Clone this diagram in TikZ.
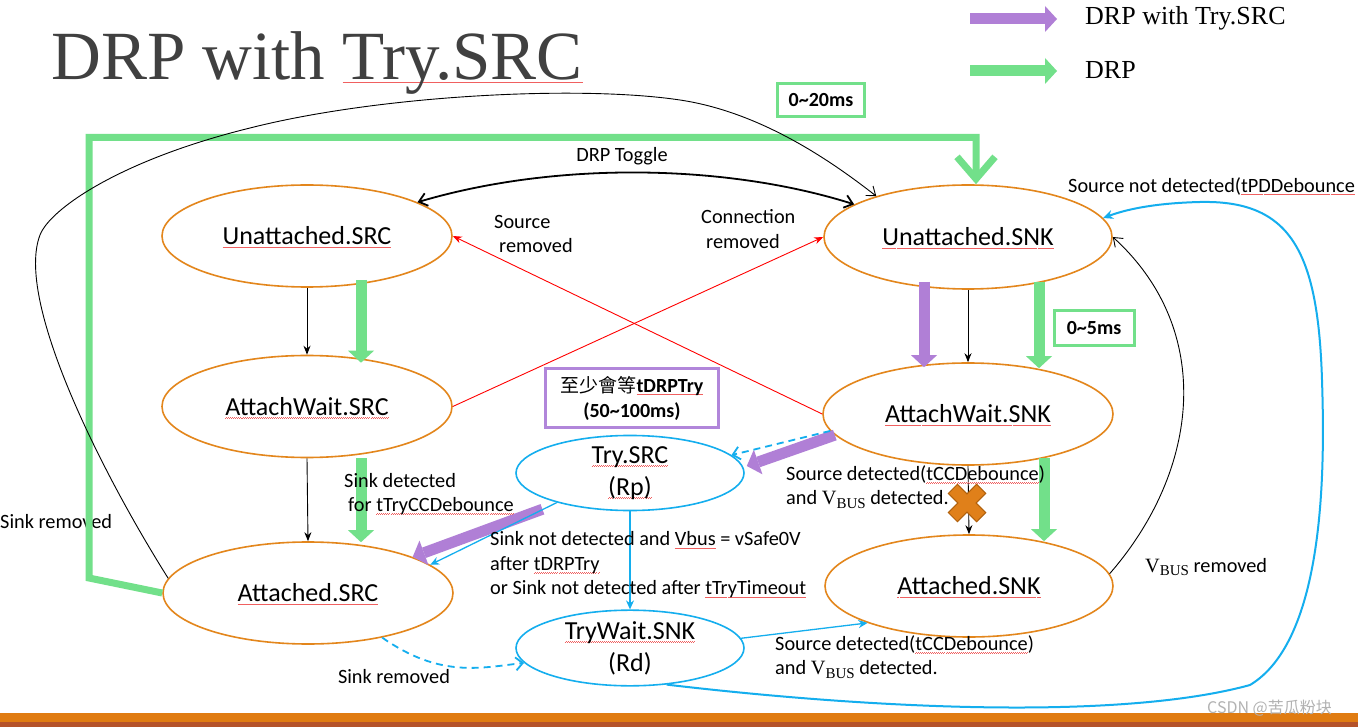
\documentclass[tikz,border=0pt]{standalone}
\usepackage{fontspec}
\setmainfont{Carlito}
\newfontfamily\serifF{Liberation Serif}
\newfontfamily\cjkF{Noto Sans CJK TC}
\newfontfamily\cjkSC{Noto Sans CJK SC}
\usetikzlibrary{shapes.geometric,arrows.meta,calc}
\definecolor{stOrange}{HTML}{E3861C}
\definecolor{stBlue}{HTML}{14AEEE}
\definecolor{arGreen}{HTML}{72E08A}
\definecolor{arPurple}{HTML}{B07FD6}
\definecolor{bxPurple}{HTML}{B186DA}
\definecolor{titleGray}{HTML}{404040}
\definecolor{barOrange}{HTML}{E07C12}
\definecolor{barDark}{HTML}{B5522A}
\definecolor{xOrange}{HTML}{E0801A}
\definecolor{xDark}{HTML}{B0600C}
\definecolor{spellRed}{HTML}{F06060}
\newcommand\sq[1]{\setbox0\hbox{#1}\rlap{\color{spellRed}\raisebox{-3pt}[0pt][0pt]{\hbox to \wd0{\xleaders\hbox{\rule{1pt}{0.6pt}\raisebox{0.7pt}{\rule{1pt}{0.6pt}}}\hfill}}}\box0\relax}
\newcommand\vbus{{\serifF V\raisebox{-0.35ex}{\fontsize{15}{15}\selectfont BUS}}}
\begin{document}
\begin{tikzpicture}[x=1pt,y=-1pt,
  state/.style={ellipse, draw=stOrange, line width=1.6pt, minimum width=290pt, minimum height=102pt, inner sep=0pt, font=\fontsize{26}{32}\selectfont, align=center},
  bstate/.style={state, draw=stBlue, minimum width=228pt, minimum height=74pt},
  lbl/.style={font=\fontsize{20.3}{24.5}\selectfont, align=left, inner sep=0pt},
  blk/.style={draw=black, line width=0.9pt, -{Stealth[length=9pt,width=7pt]}},
  blkcurve/.style={draw=black, line width=0.9pt, -{Straight Barb[length=8pt,width=12pt]}},
  redl/.style={draw=red, line width=0.9pt, -{Stealth[length=9pt,width=7pt]}},
  bl/.style={draw=stBlue, line width=1.3pt, -{Stealth[length=9pt,width=8pt]}},
  bldash/.style={draw=stBlue, line width=1.8pt, dashed, dash pattern=on 7pt off 5pt, -{Straight Barb[length=7pt,width=13pt]}},
  garrow/.style={draw=arGreen, line width=11pt, -{Triangle[width=26pt,length=12pt,line width=0pt]}},
  parrow/.style={draw=arPurple, line width=11pt, -{Triangle[width=26pt,length=12pt,line width=0pt]}},
  gbox/.style={draw=arGreen, line width=3pt, inner sep=0pt, font=\fontsize{20}{24}\selectfont\bfseries},
]
\useasboundingbox (0,0) rectangle (1358,727);
\clip (0,0) rectangle (1358,727);
\fill[white] (0,0) rectangle (1358,727);

% title and legend
\node[anchor=base west, inner sep=0pt, text=titleGray, font=\serifF\fontsize{69}{69}\selectfont] (title) at (51,80) {DRP with \sq{Try.SRC}};
\coordinate (lgPa) at (970,19);
\coordinate (lgPb) at (1057,19);
\coordinate (lgGa) at (970,71);
\coordinate (lgGb) at (1057,71);
\draw[parrow] (lgPa) -- (lgPb);
\draw[garrow] (lgGa) -- (lgGb);
\node[anchor=west, inner sep=0pt, font=\serifF\fontsize{26}{26}\selectfont] (lgPt) at (1085,18) {DRP with Try.SRC};
\node[anchor=west, inner sep=0pt, font=\serifF\fontsize{26}{26}\selectfont] (lgGt) at (1085,70) {DRP};

% states
\node[state] (uSRC) at (307,236) {\sq{Unattached.SRC}};
\node[state] (awSRC) at (307,406.5) {\sq{AttachWait.SRC}};
\node[state] (aSRC) at (308,593) {\sq{Attached.SRC}};
\node[state, minimum width=288pt, minimum height=104pt] (uSNK) at (968,237) {\sq{Unattached.SNK}};
\node[state] (awSNK) at (968,414) {\sq{AttachWait.SNK}};
\node[state, minimum width=288pt] (aSNK) at (969,586) {\sq{Attached.SNK}};
\node[bstate] (trySRC) at (630,473) {\sq{Try.SRC}\\\sq{(Rp)}};
\node[bstate, minimum height=75pt] (twSNK) at (630,648) {\sq{TryWait.SNK}\\(Rd)};

% label under the green path
\node[lbl, anchor=west] (tSinkRemL) at (0,522) {Sink removed};

% big green DRP path
\coordinate (gA) at (89,578);
\coordinate (gB) at (89,137.5);
\coordinate (gC) at (976,137.5);
\draw[draw=arGreen, line width=7pt, line join=miter, -{Straight Barb[length=22pt,width=38pt]}] (aSRC.west) -- (gA) -- (gB) -- (gC) -- (gC |- uSNK.north);
\node[gbox, minimum width=87pt, minimum height=33pt] (b20) at (821,100) {0\textasciitilde20ms};

% black curves
\draw[blkcurve] (aSRC.174) .. controls (100,470) and (15,300) .. (40,235) .. controls (50,209) and (120,160) .. (250,128) .. controls (380,95) and (580,85) .. (680,100) .. controls (760,112) and (830,160) .. (uSNK.156);
\draw[draw=black, line width=1.8pt, {Straight Barb[length=8pt,width=13pt]}-{Straight Barb[length=8pt,width=13pt]}] (uSRC.17) .. controls (560,160) and (730,165) .. (uSNK.164);
\node[lbl, anchor=center] (tToggle) at (622,156) {DRP Toggle};
\draw[blkcurve] (aSNK.5) .. controls (1200,470) and (1215,330) .. (uSNK.east);

% vertical black arrows
\draw[blk] (uSRC.south) -- (awSRC.north);
\draw[blk] (awSRC.south) -- (aSRC.north);
\draw[blk] (uSNK.south) -- (awSNK.north);
\draw[blk] (awSNK.south) -- (aSNK.north);

% red arrows
\draw[redl] (awSNK.west) -- (uSRC.east);
\draw[redl] (awSRC.east) -- (uSNK.west);
\node[lbl] (tSrcRem) [anchor=west] at (494,234) {Source\\\hspace*{5pt}removed};
\node[lbl] (tConRem) [anchor=west] at (701,229) {Connection\\\hspace*{5pt}removed};

% green arrows
\draw[garrow] ([xshift=54pt,yshift=8pt]uSRC.south) -- ([xshift=54pt,yshift=-8pt]awSRC.north);
\draw[garrow] ([xshift=54pt,yshift=0pt]awSRC.south) -- ([xshift=53pt,yshift=-1pt]aSRC.north);
\draw[garrow] ([xshift=71pt,yshift=8pt]uSNK.south) -- ([xshift=71pt,yshift=-6pt]awSNK.north);
\draw[garrow] ([xshift=76pt,yshift=8pt]awSNK.south) -- ([xshift=75pt,yshift=-7pt]aSNK.north);
\node[gbox, minimum width=80pt, minimum height=35pt] (b5) at (1094,328) {0\textasciitilde5ms};

% purple arrows
\draw[parrow] ([xshift=-44pt,yshift=8pt]uSNK.south) -- ([xshift=-44pt,yshift=-5pt]awSNK.north);
\draw[parrow] (awSNK.189) -- ([xshift=2pt,yshift=7pt]trySRC.east);
\draw[parrow] ([xshift=-10pt,yshift=-8pt]trySRC.200) -- (aSRC.19);
\node[draw=bxPurple, line width=3pt, minimum width=173pt, minimum height=59pt, inner sep=0pt, align=center, font=\fontsize{20}{25}\selectfont] (bTry) at (632,398) {{\cjkF\fontsize{19}{25}\selectfont 至少會等}\textbf{\sq{tDRPTry}}\\\textbf{(50\textasciitilde100ms)}};

% blue arrows
\draw[bldash] (awSNK.187) -- (trySRC.10);
\draw[bl] (trySRC.south) -- (twSNK.north);
\draw[bl] (trySRC.202) -- (aSRC.13);
\draw[bldash] (aSRC.329) .. controls (440,678) and (480,668) .. (twSNK.188);
\draw[bl] (twSNK.5) -- (aSNK.200);
\draw[draw=stBlue, line width=2pt, -{Stealth[length=10pt,width=9pt]}] (twSNK.315) .. controls (900,712) and (1130,718) .. (1250,685) .. controls (1325,640) and (1325,470) .. (1322,380) .. controls (1318,250) and (1290,200) .. (1200,202) .. controls (1160,203) and (1130,208) .. (uSNK.8);

% orange cross
\begin{scope}[shift={(967,503)}, rotate=45]
\filldraw[fill=xOrange, draw=xDark, line width=1pt] (-6.5,-20) -- (6.5,-20) -- (6.5,-6.5) -- (20,-6.5) -- (20,6.5) -- (6.5,6.5) -- (6.5,20) -- (-6.5,20) -- (-6.5,6.5) -- (-20,6.5) -- (-20,-6.5) -- (-6.5,-6.5) -- cycle;
\end{scope}

% labels
\node[lbl, anchor=west] (tSinkDet) at (344,494) {Sink detected\\\hspace*{4pt}for \sq{tTryCCDebounce}};
\node[lbl, anchor=west] (tSrcDet1) at (786,487) {Source detected(\sq{tCCDebounce})\\and \vbus{} detected.};
\node[lbl, anchor=west] (tSinkNot) at (490,565) {Sink not detected and \sq{Vbus} = vSafe0V\\after \sq{tDRPTry}\\or Sink not detected after \sq{tTryTimeout}};
\node[lbl, anchor=west] (tSrcDet2) at (775,657) {Source detected(\sq{tCCDebounce})\\and \vbus{} detected.};
\node[lbl, anchor=center] (tSinkRemB) at (394,677) {Sink removed};
\node[lbl, anchor=west] (tVbusRem) at (1145,567) {\vbus{} removed};
\node[lbl, anchor=west] (tSrcNot) at (1068,186) {Source not detected(\sq{tPDDebounce}};

% bottom bar and watermark
\fill[barOrange] (0,713) rectangle (1358,722);
\fill[barDark] (0,722) rectangle (1358,727);
\node[anchor=west, inner sep=0pt, text=black!30, font=\cjkSC\fontsize{16}{16}\selectfont] (wm) at (1207,708) {CSDN @苦瓜粉块};
\end{tikzpicture}
\end{document}
